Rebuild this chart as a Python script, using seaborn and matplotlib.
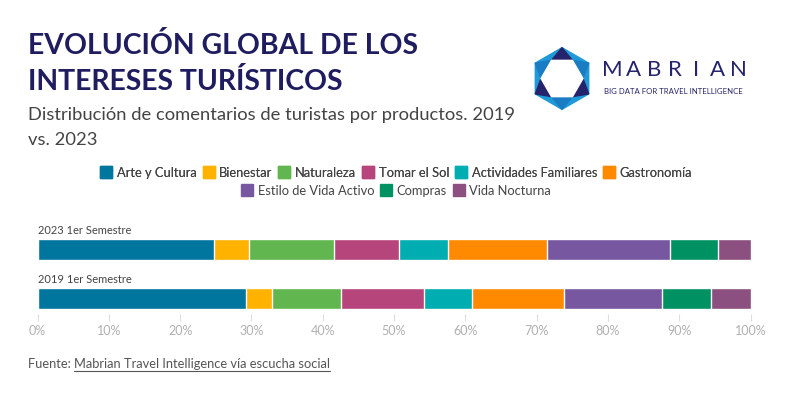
import numpy as np
import pandas as pd
import seaborn as sns
import matplotlib.pyplot as plt
from matplotlib.lines import Line2D
from matplotlib.patches import Polygon

# Data
periods = ["2023 1er Semestre", "2019 1er Semestre"]
categories = ["Arte y Cultura", "Bienestar", "Naturaleza", "Tomar el Sol",
              "Actividades Familiares", "Gastronomía", "Estilo de Vida Activo",
              "Compras", "Vida Nocturna"]
share_2023 = [24.8, 4.8, 12.0, 9.1, 6.9, 13.9, 17.2, 6.7, 4.6]
share_2019 = [29.3, 3.6, 9.7, 11.6, 6.7, 13.0, 13.7, 6.8, 5.6]
colors = ["#00769f", "#ffb300", "#62b650", "#b5457b", "#00adb0",
          "#ff8a00", "#7758a0", "#009162", "#8b5080"]
ticks = list(range(0, 101, 10))

sns.set_theme(style="white")
plt.rcParams['font.family'] = ['Lato', 'DejaVu Sans']

df = pd.DataFrame([share_2023, share_2019], index=periods, columns=categories)
cum = df.cumsum(axis=1)

W, H = 792, 399
fig = plt.figure(figsize=(W / 100, H / 100), dpi=100)

def fx(px):
    return px / W

def fy(py):
    return 1 - py / H

# -------- Stacked bars (overlap trick, largest first) --------
ax = fig.add_axes([fx(37.5), fy(314), fx(713), 94 / H])
for i in reversed(range(len(categories))):
    sns.barplot(x=cum[categories[i]].values, y=periods, orient="h",
                color=colors[i], saturation=1, width=0.44,
                edgecolor="white", linewidth=1, ax=ax)

for j, p in enumerate(periods):
    ax.text(0, j - 0.27, p, fontsize=8, color="#444444", va="bottom", ha="left")

ax.set_xlim(0, 100)
ax.set_ylim(1.316, -0.602)
ax.set_xticks(ticks)
ax.set_xticklabels([f"{t}%" for t in ticks])
ax.set_yticks([])
ax.set_xlabel("")
ax.set_ylabel("")
sns.despine(ax=ax, left=True, bottom=True)
ax.tick_params(axis="x", bottom=True, length=5, width=0.8, color="#dddddd",
               labelcolor="#b0b0b0", labelsize=9, pad=3)

# -------- Titles --------
fig.text(fx(28), fy(46), "EVOLUCIÓN GLOBAL DE LOS", fontsize=20.4, fontweight="bold",
         color="#1f1c5f", va="center")
fig.text(fx(28), fy(81), "INTERESES TURÍSTICOS", fontsize=20.4, fontweight="bold",
         color="#1f1c5f", va="center")
fig.text(fx(28), fy(115), "Distribución de comentarios de turistas por productos. 2019",
         fontsize=13.2, color="#444444", va="center")
fig.text(fx(28), fy(140), "vs. 2023", fontsize=13.2, color="#444444", va="center")

# -------- Legend (two centred rows) --------
handles = [Line2D([0], [0], marker="s", ls="", markersize=8.5,
                  markerfacecolor=c, markeredgecolor=c) for c in colors]
leg_kw = dict(loc="center", frameon=False, fontsize=9.3, handletextpad=0.3,
              columnspacing=0.45, handlelength=1.0, labelcolor="#444444")
leg1 = fig.legend(handles[:6], categories[:6], bbox_to_anchor=(0.5, fy(173)),
                  ncol=6, **leg_kw)
fig.legend(handles[6:], categories[6:], bbox_to_anchor=(0.5, fy(191)),
           ncol=3, **leg_kw)
fig.add_artist(leg1)

# -------- Logo --------
lax = fig.add_axes([fx(526), fy(114.5), fx(72), 72 / H])
lax.set_xlim(-1.25, 1.25)
lax.set_ylim(-1.25, 1.25)
lax.set_aspect("equal")
lax.axis("off")
R = 1.07
ri = 0.68 * R
ang = np.deg2rad(90 + 60 * np.arange(6))
outer = R * np.c_[np.cos(ang), np.sin(ang)]
lax.add_patch(Polygon(outer, closed=True, color="#1e9ad8"))
ang_in = np.deg2rad(60 * np.arange(6))
inner = ri * np.c_[np.cos(ang_in), np.sin(ang_in)]
# star points: apex at outer vertex k, base on inner vertices either side
for k in range(6):
    a = np.deg2rad(90 + 60 * k)
    base = [ri * np.array([np.cos(a - np.pi / 6), np.sin(a - np.pi / 6)]),
            ri * np.array([np.cos(a + np.pi / 6), np.sin(a + np.pi / 6)])]
    col = "#25236b" if k % 2 == 0 else "#1a7cc2"
    lax.add_patch(Polygon([outer[k], base[1], base[0]], closed=True, color=col))
lax.add_patch(Polygon(inner, closed=True, color="white"))

for k, letter in enumerate("MABRIAN"):
    fig.text(fx(612 + k * 21.0), fy(70), letter, fontsize=16, color="#25236b",
             ha="center", va="center")
fig.text(fx(604), fy(91), "BIG DATA FOR TRAVEL INTELLIGENCE", fontsize=5.6,
         color="#25236b", va="center")

# -------- Footer with underlined link --------
t1 = fig.text(fx(28), fy(364), "Fuente: ", fontsize=9.3, color="#555555", va="center")
fig.canvas.draw()
r = fig.canvas.get_renderer()
bb = t1.get_window_extent(r)
t2 = fig.text(bb.x1 / W, fy(364), "Mabrian Travel Intelligence vía escucha social",
              fontsize=9.3, color="#555555", va="center")
fig.canvas.draw()
bb2 = t2.get_window_extent(r)
fig.add_artist(Line2D([bb2.x0 / W, bb2.x1 / W], [fy(371), fy(371)],
                      color="#555555", lw=0.8))

fig.savefig("out.png", dpi=100)
